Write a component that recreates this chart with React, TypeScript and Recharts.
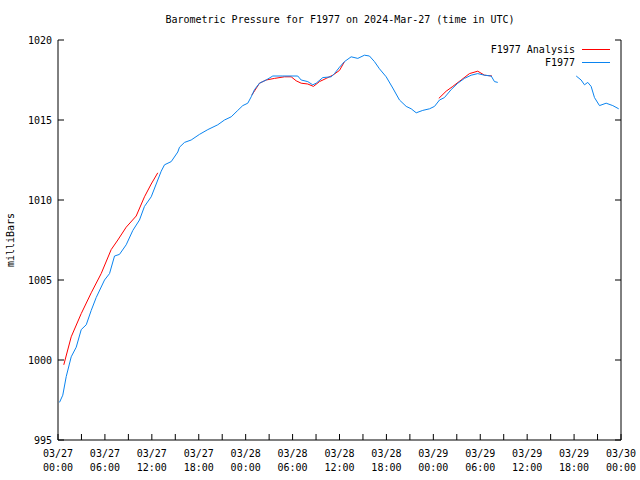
import React from "react";
import { LineChart, Line, XAxis, YAxis, Legend } from "recharts";

// hours since 03/27 00:00 UTC, and pressure in mb (null = gap in record)
const stationHours = [
  0.19, 0.61, 1.05, 1.69, 2.33, 2.97, 3.61, 4.25, 4.88, 5.95, 6.59, 7.23, 7.86,
  8.72, 9.57, 10.42, 11.06, 11.92, 12.56, 13.2, 13.62, 14.48, 15.32, 15.54,
  16.18, 17.03, 18.09, 19.16, 20.43, 21.29, 22.15, 22.99, 23.63, 24.27, 24.71,
  25.13, 25.77, 26.62, 27.47, 28.75, 30.66, 31.1, 31.94, 32.58, 33.02, 33.86,
  34.94, 35.36, 36.0, 36.64, 37.49, 38.34, 39.19, 39.83, 40.47, 41.11, 41.97,
  42.81, 43.67, 44.53, 45.17, 45.81, 46.65, 47.51, 48.15, 48.79, 49.42, 50.28,
  51.13, 51.98, 52.84, 53.68, 54.54, 55.4, 55.82, 56.24, 61.0, 66.27, 66.9,
  67.33, 67.75, 68.18, 68.61, 69.25, 70.1, 70.95, 71.71,
];
const stationPressure = [
  997.35, 997.8, 998.96, 1000.2, 1000.8, 1001.9, 1002.2, 1003.1, 1003.9, 1005.0,
  1005.4, 1006.5, 1006.6, 1007.2, 1008.1, 1008.75, 1009.6, 1010.2, 1011.0,
  1011.8, 1012.2, 1012.4, 1013.0, 1013.3, 1013.6, 1013.75, 1014.1, 1014.4,
  1014.7, 1015.0, 1015.2, 1015.6, 1015.9, 1016.05, 1016.45, 1016.9, 1017.3,
  1017.5, 1017.75, 1017.75, 1017.75, 1017.5, 1017.4, 1017.2, 1017.3, 1017.65,
  1017.7, 1017.9, 1018.3, 1018.65, 1018.95, 1018.85, 1019.05, 1019.0, 1018.65,
  1018.2, 1017.7, 1017.0, 1016.25, 1015.85, 1015.7, 1015.45, 1015.6, 1015.7,
  1015.85, 1016.25, 1016.4, 1016.9, 1017.3, 1017.6, 1017.8, 1017.9, 1017.8,
  1017.75, 1017.4, 1017.35, null, 1017.75, 1017.5, 1017.2, 1017.35, 1017.1,
  1016.4, 1015.9, 1016.05, 1015.9, 1015.7,
];

const analysisHours = [
  0.74, 1.69, 2.97, 4.25, 5.52, 6.8, 7.65, 8.72, 10.0, 11.06, 11.92, 12.76,
  18.0, 24.78, 25.77, 26.62, 27.69, 28.96, 29.82, 30.46, 31.1, 31.94, 32.67,
  33.44, 34.3, 35.14, 36.0, 36.64, 42.0, 48.7, 49.64, 50.49, 51.56, 52.62,
  53.68, 54.54, 55.5,
];
const analysisPressure = [
  999.7, 1001.45, 1002.9, 1004.2, 1005.4, 1006.9, 1007.5, 1008.3, 1009.0,
  1010.2, 1011.0, 1011.7, null, 1016.55, 1017.3, 1017.5, 1017.6, 1017.7,
  1017.7, 1017.45, 1017.3, 1017.25, 1017.1, 1017.4, 1017.6, 1017.8, 1018.1,
  1018.65, null, 1016.35, 1016.8, 1017.1, 1017.5, 1017.9, 1018.05, 1017.8,
  1017.75,
];

const hourTicks = [0, 3, 6, 9, 12, 15, 18, 21, 24, 27, 30, 33, 36, 39, 42, 45, 48, 51, 54, 57, 60, 63, 66, 69, 72];
const tickDates = ["03/27", "03/27", "03/27", "03/27", "03/28", "03/28", "03/28", "03/28", "03/29", "03/29", "03/29", "03/29", "03/30"];
const tickTimes = ["00:00", "06:00", "12:00", "18:00", "00:00", "06:00", "12:00", "18:00", "00:00", "06:00", "12:00", "18:00", "00:00"];
const pressureTicks = [995, 1000, 1005, 1010, 1015, 1020];
const legendOrder = ["F1977 Analysis", "F1977"];

const stationData = stationHours.map((t, i) => ({ t, v: stationPressure[i] }));
const analysisData = analysisHours.map((t, i) => ({ t, v: analysisPressure[i] }));

const FONT = "'DejaVu Sans Mono', monospace";

const BottomTick = (props: any) => {
  const { x, y, payload } = props;
  const h = payload.value;
  const idx = h / 6;
  return (
    <g>
      <line x1={x} y1={y} x2={x} y2={y - 6} stroke="#000" />
      {h % 6 === 0 && (
        <text x={x} textAnchor="middle" fontFamily={FONT} fontSize={10} fill="#000">
          <tspan x={x} y={y + 17}>{tickDates[idx]}</tspan>
          <tspan x={x} y={y + 31}>{tickTimes[idx]}</tspan>
        </text>
      )}
    </g>
  );
};

const TopTick = (props: any) => {
  const { x, y } = props;
  return <line x1={x} y1={y} x2={x} y2={y + 6} stroke="#000" />;
};

const LeftTick = (props: any) => {
  const { x, y, payload } = props;
  return (
    <g>
      <line x1={x} y1={y} x2={x + 6} y2={y} stroke="#000" />
      <text x={x - 6} y={y + 4} textAnchor="end" fontFamily={FONT} fontSize={10} fill="#000">
        {payload.value}
      </text>
    </g>
  );
};

const RightTick = (props: any) => {
  const { x, y } = props;
  return <line x1={x} y1={y} x2={x - 6} y2={y} stroke="#000" />;
};

const KeyBox = ({ payload }: any) => {
  const items = [...(payload || [])].sort(
    (a: any, b: any) => legendOrder.indexOf(a.value) - legendOrder.indexOf(b.value)
  );
  return (
    <div style={{ fontFamily: FONT, fontSize: 10, color: "#000" }}>
      {items.map((p: any) => (
        <div key={p.value} style={{ display: "flex", justifyContent: "flex-end", alignItems: "center", height: 13 }}>
          <span>{p.value}</span>
          <span style={{ display: "inline-block", width: 28, height: 0, borderTop: `1px solid ${p.color}`, marginLeft: 7 }} />
        </div>
      ))}
    </div>
  );
};

export default function App() {
  return (
    <div style={{ position: "absolute", left: 0, top: 0, width: 640, height: 480, background: "#fff" }}>
      <div style={{ position: "absolute", top: 14, left: 20, width: 640, textAlign: "center", fontFamily: FONT, fontSize: 10 }}>
        Barometric Pressure for F1977 on 2024-Mar-27 (time in UTC)
      </div>
      <div
        style={{
          position: "absolute",
          left: 10,
          top: 240,
          transform: "translate(-50%, -50%) rotate(-90deg)",
          fontFamily: FONT,
          fontSize: 10,
          whiteSpace: "nowrap",
        }}
      >
        milliBars
      </div>
      <LineChart width={640} height={480} margin={{ top: 40, right: 0, bottom: 0, left: 0 }}>
        <XAxis
          xAxisId="b"
          type="number"
          dataKey="t"
          domain={[0, 72]}
          ticks={hourTicks}
          interval={0}
          height={40}
          tickSize={0}
          tickMargin={0}
          tickLine={false}
          axisLine={{ stroke: "#000" }}
          tick={<BottomTick />}
          allowDataOverflow
        />
        <XAxis
          xAxisId="t"
          orientation="top"
          type="number"
          dataKey="t"
          domain={[0, 72]}
          ticks={hourTicks}
          interval={0}
          height={0}
          tickSize={0}
          tickMargin={0}
          tickLine={false}
          axisLine={{ stroke: "#000" }}
          tick={<TopTick />}
          allowDataOverflow
        />
        <YAxis
          yAxisId="l"
          type="number"
          domain={[995, 1020]}
          ticks={pressureTicks}
          interval={0}
          width={58}
          tickSize={0}
          tickMargin={0}
          tickLine={false}
          axisLine={{ stroke: "#000" }}
          tick={<LeftTick />}
          allowDataOverflow
        />
        <YAxis
          yAxisId="r"
          orientation="right"
          type="number"
          domain={[995, 1020]}
          ticks={pressureTicks}
          interval={0}
          width={19}
          tickSize={0}
          tickMargin={0}
          tickLine={false}
          axisLine={{ stroke: "#000" }}
          tick={<RightTick />}
          allowDataOverflow
        />
        <Legend
          layout="vertical"
          align="center"
          verticalAlign="middle"
          content={<KeyBox />}
          wrapperStyle={{ left: 380, top: 43, width: 230 }}
        />
        <Line
          xAxisId="b"
          yAxisId="l"
          data={analysisData}
          dataKey="v"
          name="F1977 Analysis"
          type="linear"
          stroke="#ff0000"
          strokeWidth={1}
          dot={false}
          connectNulls={false}
          isAnimationActive={false}
        />
        <Line
          xAxisId="b"
          yAxisId="l"
          data={stationData}
          dataKey="v"
          name="F1977"
          type="linear"
          stroke="#0a84f0"
          strokeWidth={1}
          dot={false}
          connectNulls={false}
          isAnimationActive={false}
        />
      </LineChart>
    </div>
  );
}
